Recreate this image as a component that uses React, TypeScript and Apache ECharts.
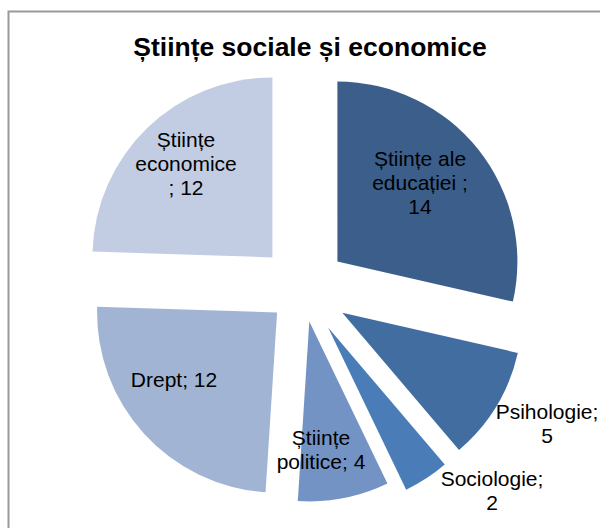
import React, { useEffect, useRef } from "react";
import * as echarts from "echarts";

// ---- data ----
const titleText = "Științe sociale și economice";
const categories = [
  "Științe ale educației ",
  "Psihologie",
  "Sociologie",
  "Științe politice",
  "Drept",
  "Științe economice ",
];
const values = [14, 5, 2, 4, 12, 12];
const labelTemplates = [
  "Științe ale\neducației ;\n{c}",
  "{b};\n{c}",
  "{b};\n{c}",
  "Științe\npolitice; {c}",
  "{b}; {c}",
  "Științe\neconomice\n; {c}",
];

// ---- styles / layout ----
const sliceColors = ["#3B5E8B", "#426DA0", "#4A7CB8", "#7393C4", "#A2B4D4", "#C2CDE3"];
const pieCenter = [303, 289];
const pieRadius = 180;
const explode = [44, 46, 46, 33, 35, 44];
const labelPos = [
  [420, 182],
  [547, 423],
  [492, 490],
  [321, 449],
  [174, 379],
  [186, 163],
];
const FONT = '"Liberation Sans", Arial, sans-serif';

export default function App() {
  const ref = useRef<HTMLDivElement>(null);
  useEffect(() => {
    if (!ref.current) return;
    const chart = echarts.init(ref.current, undefined, { renderer: "svg" });
    const total = values.reduce((a, b) => a + b, 0);
    let cum = 0;
    const series = values.map((v, i) => {
      const mid = ((cum + v / 2) / total) * 2 * Math.PI;
      cum += v;
      const cx = pieCenter[0] + explode[i] * Math.sin(mid);
      const cy = pieCenter[1] - explode[i] * Math.cos(mid);
      return {
        type: "pie",
        center: [cx, cy],
        radius: pieRadius,
        startAngle: 90,
        clockwise: true,
        silent: true,
        avoidLabelOverlap: false,
        minAngle: 0,
        emphasis: { disabled: true },
        labelLine: { show: false },
        label: {
          show: true,
          position: "inside",
          color: "#000",
          fontSize: 21,
          lineHeight: 24,
          fontFamily: FONT,
          align: "center",
        },
        itemStyle: { borderWidth: 0 },
        data: categories.map((name, j) => ({
          name,
          value: values[j],
          itemStyle: { color: j === i ? sliceColors[j] : "rgba(0,0,0,0)" },
          label: j === i ? { show: true, formatter: labelTemplates[j] } : { show: false },
        })),
        labelLayout: () => ({
          x: labelPos[i][0],
          y: labelPos[i][1],
          align: "center",
          verticalAlign: "middle",
        }),
      };
    });
    chart.setOption({
      animation: false,
      backgroundColor: "#fff",
      graphic: [
        {
          type: "rect",
          shape: { x: 8.5, y: 11.5, width: 700, height: 700 },
          style: { fill: "none", stroke: "#9a9a9a", lineWidth: 2 },
          z: 100,
        },
        {
          type: "text",
          x: 310,
          y: 47,
          style: {
            text: titleText,
            fill: "#000",
            fontSize: 26.5,
            fontWeight: "bold",
            fontFamily: FONT,
            align: "center",
            verticalAlign: "middle",
          },
          z: 100,
        },
      ],
      series,
    });
    return () => chart.dispose();
  }, []);
  return (
    <div
      ref={ref}
      style={{ position: "fixed", left: 0, top: 0, width: 600, height: 528 }}
    />
  );
}
